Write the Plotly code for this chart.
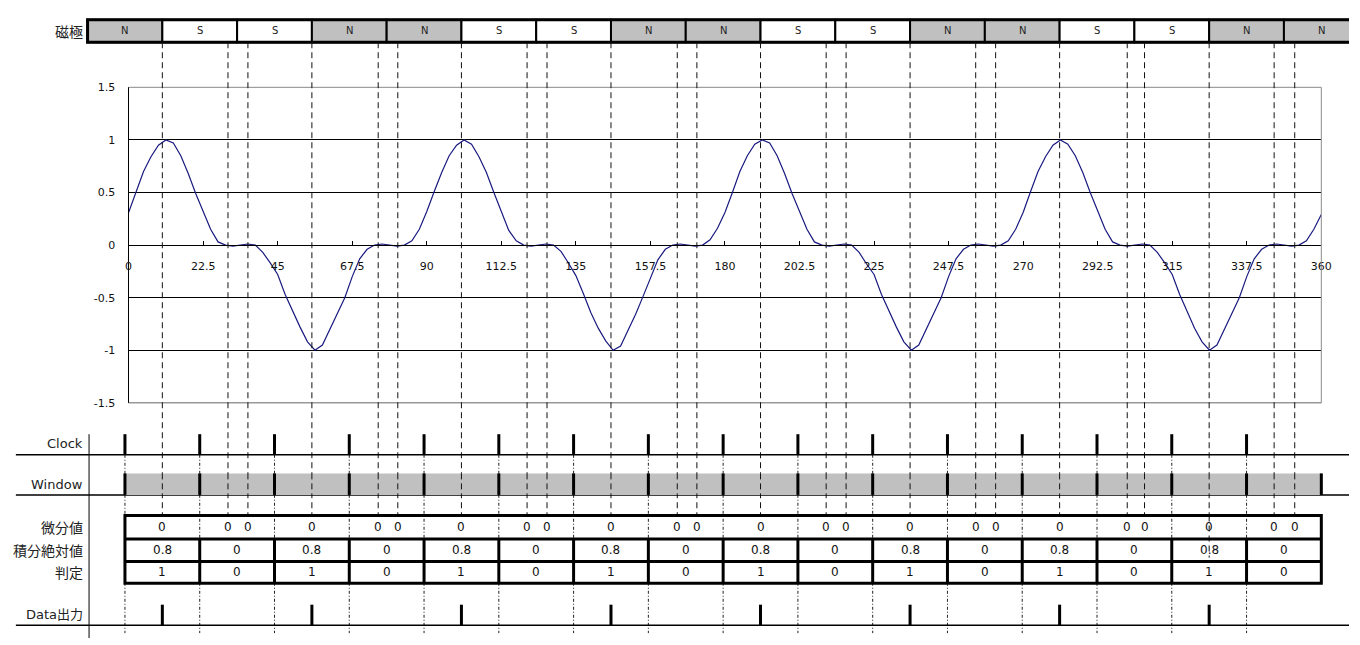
import plotly.graph_objects as go

W, H = 1360, 645

# ---------------- data ----------------
angle = [i * 2.25 for i in range(161)]
signal = [
    0.31, 0.50, 0.70, 0.84, 0.95, 1.00, 0.97, 0.85, 0.68, 0.49, 0.32, 0.15, 0.03, 0.00, -0.01, 0.00, 0.01, 0.00, -0.07, -0.17,
    -0.28, -0.47, -0.63, -0.78, -0.92, -1.00, -0.95, -0.80, -0.65, -0.50, -0.30, -0.13, -0.04, 0.00, 0.01, 0.00, -0.01, 0.00, 0.04, 0.15,
    0.32, 0.51, 0.69, 0.85, 0.95, 1.00, 0.96, 0.84, 0.69, 0.50, 0.31, 0.14, 0.04, 0.00, -0.01, 0.00, 0.01, 0.00, -0.06, -0.17,
    -0.29, -0.46, -0.64, -0.79, -0.91, -1.00, -0.96, -0.81, -0.66, -0.49, -0.31, -0.14, -0.04, 0.00, 0.01, 0.00, -0.01, 0.00, 0.05, 0.16,
    0.31, 0.50, 0.70, 0.85, 0.96, 1.00, 0.97, 0.85, 0.68, 0.49, 0.32, 0.15, 0.03, 0.00, -0.01, 0.00, 0.01, 0.00, -0.07, -0.18,
    -0.28, -0.47, -0.63, -0.78, -0.92, -1.00, -0.95, -0.80, -0.65, -0.50, -0.30, -0.13, -0.04, 0.00, 0.01, 0.00, -0.01, 0.00, 0.04, 0.15,
    0.31, 0.51, 0.70, 0.84, 0.95, 1.00, 0.96, 0.85, 0.69, 0.50, 0.32, 0.15, 0.03, 0.00, -0.01, 0.00, 0.01, 0.00, -0.07, -0.17,
    -0.28, -0.47, -0.63, -0.79, -0.92, -1.00, -0.95, -0.80, -0.65, -0.50, -0.30, -0.13, -0.04, 0.00, 0.01, 0.00, -0.01, 0.00, 0.04, 0.15,
    0.29,
]
x_tick_vals = [0, 22.5, 45, 67.5, 90, 112.5, 135, 157.5, 180, 202.5, 225, 247.5, 270, 292.5, 315, 337.5, 360]
x_tick_text = ["0", "22.5", "45", "67.5", "90", "112.5", "135", "157.5", "180", "202.5", "225",
               "247.5", "270", "292.5", "315", "337.5", "360"]
y_tick_vals = [-1.5, -1, -0.5, 0, 0.5, 1, 1.5]
y_tick_text = ["-1.5", "-1", "-0.5", "0", "0.5", "1", "1.5"]

pole_labels = ["N", "S", "S", "N", "N", "S", "S", "N", "N", "S", "S", "N", "N", "S", "S", "N", "N"]
pole_edges = [-11.25, 11.25, 33.75, 56.25, 78.75, 101.25, 123.75, 146.25, 168.75, 191.25, 213.75,
              236.25, 258.75, 281.25, 303.75, 326.25, 348.75, 371.25]

# dashed marker lines: extrema and edges of the flat zero sections
marker_deg = [11.25, 31.0, 37.0, 56.25, 76.2, 82.1, 101.25, 121.0, 127.0, 146.25, 166.2, 172.1,
              191.25, 211.0, 217.0, 236.25, 256.0, 262.0, 281.25, 301.6, 306.8, 326.25, 345.8, 352.0]

clock_deg = [0, 22.5, 45, 67.5, 90, 112.5, 135, 157.5, 180, 202.5, 225, 247.5, 270, 292.5, 315, 337.5]
window_deg = [0, 360]
diff_text = ["0"] * 24
integ_text = ["0.8", "0", "0.8", "0", "0.8", "0", "0.8", "0", "0.8", "0", "0.8", "0", "0.8", "0", "0.8", "0"]
judge_text = ["1", "0", "1", "0", "1", "0", "1", "0", "1", "0", "1", "0", "1", "0", "1", "0"]
data_out_deg = [11.25, 56.25, 101.25, 146.25, 191.25, 236.25, 281.25, 326.25]

row_labels = ["Clock", "Window", "微分値", "積分絶対値", "判定", "Data出力"]

# ---------------- layout helpers ----------------
def yp(px):
    return 1 - px / H

PLOT_L, PLOT_R = 126, 1332
X2_PX_PER_DEG = 3.3603
x2_range = [1.1 - PLOT_L / X2_PX_PER_DEG, 1.1 + (W - PLOT_L) / X2_PX_PER_DEG]

FONT = "DejaVu Sans, Liberation Sans, sans-serif"
LAB = "DejaVu Sans, Noto Sans CJK JP, sans-serif"
CJK = "Noto Sans CJK JP, sans-serif"

fig = go.Figure()
fig.add_trace(go.Scatter(x=angle, y=signal, mode="lines",
                         line=dict(color="#1a1a80", width=1.2), showlegend=False,
                         hoverinfo="skip"))
fig.add_trace(go.Scatter(x=[], y=[], xaxis="x2", yaxis="y2", showlegend=False))

shapes = []
annotations = []

def vline(x, y0, y1, width=1, color="black", dash="solid", xref="x2"):
    shapes.append(dict(type="line", xref=xref, yref="paper", x0=x, x1=x,
                       y0=yp(y0), y1=yp(y1), line=dict(color=color, width=width, dash=dash)))

def hline(x0, x1, y, width=1, color="black", xref="x2"):
    shapes.append(dict(type="line", xref=xref, yref="paper", x0=x0, x1=x1,
                       y0=yp(y), y1=yp(y), line=dict(color=color, width=width)))

def rect(x0, x1, y0, y1, fill="rgba(0,0,0,0)", width=1, color="black", xref="x2"):
    shapes.append(dict(type="rect", xref=xref, yref="paper", x0=x0, x1=x1,
                       y0=yp(y1), y1=yp(y0), fillcolor=fill,
                       line=dict(color=color, width=width)))

def text(x, y, s, size=11, font=FONT, xref="x2", xanchor="center", color="#111"):
    annotations.append(dict(x=x, y=yp(y), xref=xref, yref="paper", text=s, showarrow=False,
                            xanchor=xanchor, yanchor="middle",
                            font=dict(family=font, size=size, color=color)))

# plot-area border (top/right light gray, bottom darker gray)
hline(PLOT_L / W, PLOT_R / W, 83, width=1, color="#8a8a8a", xref="paper")
vline(PLOT_R / W, 83, 405, width=1, color="#8a8a8a", xref="paper")
hline(PLOT_L / W, PLOT_R / W, 405, width=1, color="#666666", xref="paper")

# magnetic pole strip
for i, lab in enumerate(pole_labels):
    x0, x1 = pole_edges[i], pole_edges[i + 1]
    rect(x0, x1, 14, 37, fill="#c0c0c0" if lab == "N" else "white", width=2)
    text((x0 + x1) / 2, 25.5, lab, size=10, color="#222")
rect(pole_edges[0], pole_edges[-1], 14, 37, width=3)
text(82 / W, 25.5, "磁極", size=14, font=CJK, xref="paper", xanchor="right", color="#222")

# dash-dot guides at clock positions
for d in clock_deg:
    vline(d, 458, 640, width=1, color="#222", dash="3px,2px,1px,2px")

# long dashed marker lines
for d in marker_deg:
    vline(d, 37, 520, width=1, color="#111", dash="6px,4px")
vline(marker_deg[21], 520, 563, width=1, color="#111", dash="6px,4px")

# label column divider and baselines
vline(86 / W, 437, 645, width=1, xref="paper")
for yb in (458, 499, 632):
    hline(12 / W, 1.0, yb, width=1.5, xref="paper")

# Clock
for d in clock_deg:
    vline(d, 437, 458, width=3)

# Window
rect(window_deg[0], window_deg[1], 477, 499, fill="#c0c0c0", width=0, color="rgba(0,0,0,0)")
for d in clock_deg + [window_deg[1]]:
    vline(d, 477, 499, width=3)
for d in marker_deg:
    vline(d, 477, 499, width=1, color="#111", dash="6px,4px")

# Table
for d in clock_deg[1:]:
    vline(d, 544, 589, width=3)
hline(clock_deg[0], 360, 544, width=3)
hline(clock_deg[0], 360, 567, width=3)
rect(clock_deg[0], 360, 520, 589, width=3)
for d, s in zip(marker_deg, diff_text):
    text(d, 532, s, size=12)
for k, d in enumerate(clock_deg):
    text(d + 11.25, 555.5, integ_text[k], size=12)
    text(d + 11.25, 578, judge_text[k], size=12)

# Data output pulses
for d in data_out_deg:
    vline(d, 611, 632, width=3)

# row labels
for lab, y in zip(row_labels, (447, 488, 532, 555.5, 578, 621)):
    is_cjk = lab in ("微分値", "積分絶対値", "判定")
    text(82 / W, y, lab, size=14 if is_cjk else 13, font=CJK if is_cjk else LAB,
         xref="paper", xanchor="right", color="#222")

fig.update_layout(
    width=W, height=H,
    margin=dict(l=0, r=0, t=0, b=0),
    paper_bgcolor="white", plot_bgcolor="rgba(0,0,0,0)",
    showlegend=False,
    shapes=shapes, annotations=annotations,
    xaxis=dict(domain=[PLOT_L / W, PLOT_R / W], range=[0, 360], anchor="free",
               position=yp(244), showgrid=False, zeroline=False, showline=True,
               linecolor="black", linewidth=1.2, ticks="inside", ticklen=4,
               tickcolor="black", tickvals=x_tick_vals, ticktext=x_tick_text,
               ticklabelstandoff=11, tickfont=dict(family=FONT, size=11, color="#111")),
    yaxis=dict(domain=[yp(405), yp(83)], range=[-1.5, 1.5], showgrid=True,
               gridcolor="black", gridwidth=1, zeroline=False, showline=True,
               linecolor="black", linewidth=1.2, ticks="", tickvals=y_tick_vals,
               ticktext=y_tick_text, ticklabelstandoff=10,
               tickfont=dict(family=FONT, size=11, color="#111")),
    xaxis2=dict(domain=[0, 1], range=x2_range, visible=False, anchor="y2"),
    yaxis2=dict(domain=[0, 1], range=[0, 1], visible=False, anchor="x2"),
)

fig.write_html("out.html", config={"displayModeBar": False},
               post_script="document.body.style.margin='0';document.body.style.overflow='hidden';")
